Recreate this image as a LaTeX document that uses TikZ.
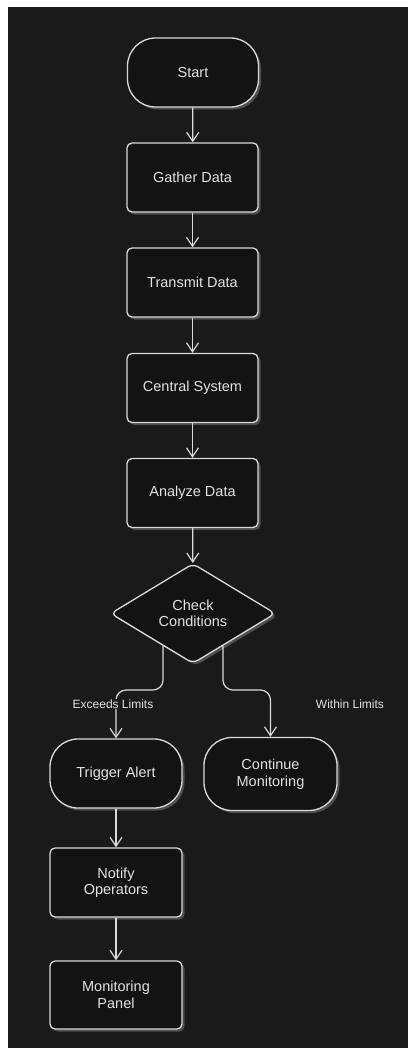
\documentclass[tikz,border=0pt]{standalone}
\usepackage{fontspec}
\setmainfont{Liberation Sans}
\usetikzlibrary{arrows.meta,shapes.geometric,shadows,calc}
\definecolor{bgc}{HTML}{1A1A1A}
\definecolor{fillc}{HTML}{131313}
\definecolor{linec}{HTML}{DADADA}
\definecolor{textc}{HTML}{E2E2E2}
\definecolor{shadc}{HTML}{4E4E4E}
\tikzset{
  base/.style={draw=linec, line width=1.3pt, fill=fillc, text=textc, inner sep=0pt,
    font=\fontsize{14.5}{16.5}\selectfont, align=center,
    general shadow={shadow xshift=2.5pt, shadow yshift=-2.5pt, fill=shadc}},
  procbox/.style={base, rectangle, rounded corners=5pt, minimum width=131pt, minimum height=69pt},
  termbox/.style={base, rectangle, rounded corners=28pt, minimum width=131pt, minimum height=69pt},
  decbox/.style={base, diamond, aspect=1.65, rounded corners=6pt, minimum width=165pt, minimum height=100pt},
  conn/.style={draw=linec, line width=1.2pt, -{Straight Barb[length=9pt,width=12pt,line width=1.2pt]}},
  lbl/.style={text=textc, font=\fontsize{12}{14}\selectfont, inner sep=1pt}
}
\begin{document}
\begin{tikzpicture}[x=1pt,y=-1pt]
\useasboundingbox (0,0) rectangle (408,1050);
\fill[white] (0,0) rectangle (408,1050);
\fill[bgc] (8,7) rectangle (408,1048);

\node[termbox] (start) at (193,72.5) {Start};
\node[procbox] (gather) at (192.5,177.5) {Gather Data};
\node[procbox] (transmit) at (192.5,282.5) {Transmit Data};
\node[procbox] (central) at (192.5,388) {Central System};
\node[procbox] (analyze) at (192.5,493) {Analyze Data};
\node[decbox] (check) at (193,613.5) {Check\\Conditions};
\node[termbox, minimum width=132pt] (alert) at (116,773.5) {Trigger Alert};
\node[termbox, minimum width=133pt, minimum height=73pt] (cont) at (270.5,774) {Continue\\Monitoring};
\node[procbox, minimum width=132pt] (notify) at (116,882.5) {Notify\\Operators};
\node[procbox, minimum width=132pt, minimum height=68pt] (panel) at (116,995) {Monitoring\\Panel};

\coordinate (cl) at ($(check.west)!0.64!(check.south)$);
\coordinate (cr) at ($(check.east)!0.64!(check.south)$);

\draw[conn] (start) -- (gather);
\draw[conn] (gather) -- (transmit);
\draw[conn] (transmit) -- (central);
\draw[conn] (central) -- (analyze);
\draw[conn] (analyze) -- (check);
\draw[conn, rounded corners=10pt] (cl) -- (cl |- 0,690) -- (alert.north |- 0,690) -- (alert.north);
\draw[conn, rounded corners=10pt] (cr) -- (cr |- 0,690) -- (cont.north |- 0,690) -- (cont.north);
\draw[conn] (alert) -- (notify);
\draw[conn] (notify) -- (panel);

\node[lbl, fill=bgc] (exc) at (113,704) {Exceeds Limits};
\node[lbl] (within) at (350,704) {Within Limits};
\end{tikzpicture}
\end{document}
